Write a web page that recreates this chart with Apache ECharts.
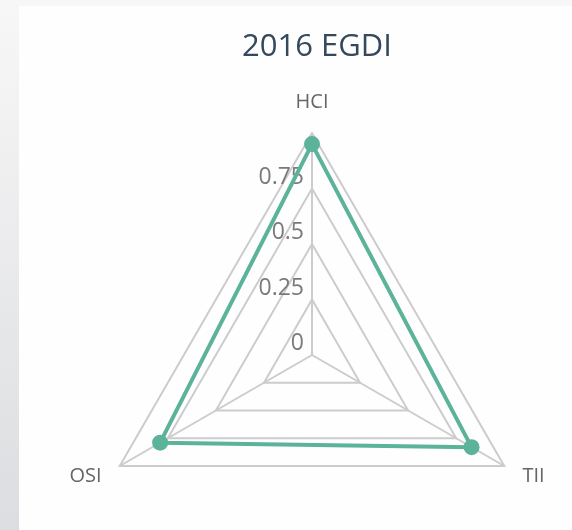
<!DOCTYPE html>
<html>
<head>
<meta charset="utf-8">
<script src="https://cdn.jsdelivr.net/npm/echarts@6/dist/echarts.min.js"></script>
<style>
  html, body { margin: 0; padding: 0; width: 572px; height: 530px; overflow: hidden; }
  body { background: #f7f7f7; position: relative; }
  #strip { position: absolute; left: 0; top: 6px; width: 19px; height: 524px;
           background: linear-gradient(#f7f7f7, #dcdde0); }
  #card { position: absolute; left: 19px; top: 6px; width: 553px; height: 524px; background: #fefefe; }
  #chart { position: absolute; left: 0; top: 0; width: 572px; height: 530px; }
</style>
</head>
<body>
<div id="strip"></div>
<div id="card"></div>
<div id="chart"></div>
<script>
const titleText = '2016 EGDI';
const indicators = ['HCI', 'OSI', 'TII'];
const values = [0.95, 0.79, 0.83];
const axisMax = 1;

const chart = echarts.init(document.getElementById('chart'));
chart.setOption({
  backgroundColor: 'transparent',
  title: {
    text: titleText,
    left: 312,
    textAlign: 'center',
    top: 27,
    textStyle: { fontFamily: 'Open Sans', fontSize: 31, fontWeight: 'normal', color: '#34495e' }
  },
  radar: {
    center: [312, 355],
    radius: 222,
    startAngle: 90,
    splitNumber: 4,
    shape: 'polygon',
    axisName: { color: '#666', fontSize: 20, fontFamily: 'Open Sans' },
    nameGap: 21,
    indicator: indicators.map((n, i) => {
      const ind = { name: n, min: 0, max: axisMax };
      if (i !== 0) ind.axisLabel = { show: false };
      return ind;
    }),
    axisLine: { lineStyle: { color: '#cccccc', width: 2 } },
    splitLine: { lineStyle: { color: '#cccccc', width: 2 } },
    splitArea: { show: false },
    axisLabel: { show: true, color: '#7a7a7a', fontSize: 23, fontFamily: 'Open Sans', showMaxLabel: false, margin: 8, verticalAlign: 'bottom' }
  },
  series: [{
    type: 'radar',
    symbol: 'circle',
    symbolSize: 16,
    lineStyle: { color: '#5bb39a', width: 4 },
    itemStyle: { color: '#5bb39a' },
    data: [{ value: values, name: titleText }]
  }]
});
</script>
</body>
</html>
